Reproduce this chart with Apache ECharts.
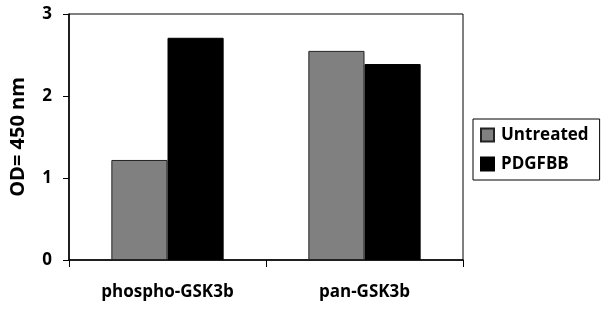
<!DOCTYPE html>
<html>
<head>
<meta charset="utf-8">
<script src="https://cdn.jsdelivr.net/npm/echarts@6/dist/echarts.min.js"></script>
<style>html,body{margin:0;padding:0;background:#fff}#c{width:608px;height:312px}</style>
</head>
<body>
<div id="c"></div>
<script>
const categories = ['phospho-GSK3b', 'pan-GSK3b'];
const untreated = [1.22, 2.55];
const pdgfbb = [2.71, 2.39];
const yTicks = [0, 1, 2, 3];
const seriesNames = ['Untreated', 'PDGFBB'];

const FONT = 'Open Sans';
const chart = echarts.init(document.getElementById('c'), null, {renderer: 'canvas'});
chart.setOption({
  animation: false,
  backgroundColor: '#fff',
  grid: {left: 64, right: 145, top: 14, bottom: 52, show: true, borderColor: '#000', borderWidth: 1, backgroundColor: 'transparent'},
  legend: {
    orient: 'vertical', left: 473, top: 119,
    padding: [6, 11, 6, 7], itemGap: 9,
    borderColor: '#000', borderWidth: 1,
    icon: 'rect', itemWidth: 13, itemHeight: 13,
    textStyle: {fontFamily: FONT, fontWeight: 'bold', fontSize: 17, lineHeight: 20, color: '#000', padding: [0, 0, 0, 2]},
    data: seriesNames
  },
  xAxis: {
    type: 'category', data: categories,
    axisLine: {lineStyle: {color: '#000', width: 1.5}},
    axisTick: {show: true, alignWithLabel: false, length: 7, lineStyle: {color: '#000'}},
    axisLabel: {fontFamily: FONT, fontWeight: 'bold', fontSize: 17, color: '#000', margin: 24}
  },
  yAxis: {
    type: 'value', min: 0, max: 3, interval: 1,
    name: 'OD= 450 nm', nameLocation: 'middle', nameGap: 41, nameRotate: 90,
    nameTextStyle: {fontFamily: FONT, fontWeight: 'bold', fontSize: 20, color: '#000'},
    axisLine: {show: true, lineStyle: {color: '#000', width: 1.5}},
    axisTick: {show: true, length: 6, lineStyle: {color: '#000'}},
    splitLine: {show: false},
    axisLabel: {fontFamily: FONT, fontWeight: 'bold', fontSize: 17, color: '#000', margin: 17,
      formatter: v => yTicks.includes(v) ? String(v) : ''}
  },
  series: [
    {name: seriesNames[0], type: 'bar', data: untreated, barGap: '0%', barCategoryGap: '43%',
     itemStyle: {color: '#808080', borderColor: '#222', borderWidth: 1}},
    {name: seriesNames[1], type: 'bar', data: pdgfbb,
     itemStyle: {color: '#000', borderColor: '#000', borderWidth: 1}}
  ]
});
</script>
</body>
</html>
